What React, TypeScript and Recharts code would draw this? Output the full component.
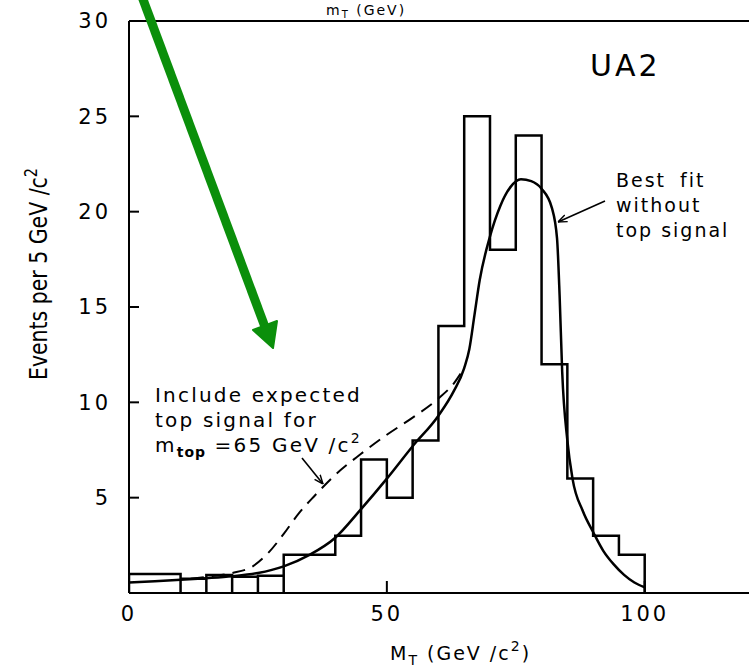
import { LineChart, Line, XAxis, YAxis } from 'recharts'

// histogram: bin edges and counts (events per 5 GeV/c^2)
const BIN_EDGES = [0, 10, 15, 20, 25, 30, 35, 40, 45, 50, 55, 60, 65, 70, 75, 80, 85, 90, 95, 100]
const BIN_COUNTS = [1, 0.75, 0.95, 0.85, 0.9, 2, 2, 3, 7, 5, 8, 14, 25, 18, 24, 12, 6, 3, 2]
// below this mass the bins are drawn as separate boxes down to the axis
const OPEN_BINS_BELOW = 30

// best fit without top signal
const FIT_X = [0, 5, 10, 15, 20, 25, 30, 35, 40, 45, 50, 55, 60, 63, 65, 66, 67, 68, 70, 72, 74, 76, 78, 80, 82, 83, 83.5, 84, 85, 86, 88, 90, 92, 94, 96, 98, 100]
const FIT_Y = [0.55, 0.62, 0.7, 0.78, 0.88, 1.05, 1.4, 2.0, 2.9, 4.4, 6.0, 7.7, 9.3, 10.6, 11.8, 12.8, 14.6, 16.4, 18.7, 20.3, 21.3, 21.7, 21.6, 21.2, 20.2, 18.6, 15.6, 11.6, 8.0, 6.0, 4.3, 3.2, 2.2, 1.5, 0.95, 0.55, 0.3]

// fit including expected top signal (m_top = 65 GeV/c^2)
const SIG_X = [12, 16, 20, 24, 27, 30, 33, 36, 40, 45, 50, 55, 60, 63, 65]
const SIG_Y = [0.75, 0.88, 1.05, 1.4, 2.1, 3.1, 4.2, 5.1, 6.2, 7.3, 8.3, 9.2, 10.2, 11.0, 11.8]

const X_TICKS = [0, 50, 100]
const Y_TICKS = [5, 10, 15, 20, 25, 30]
const TOP_TICKS = [50, 100]
const RIGHT_TICKS = [5, 10, 15, 20, 25]

const FONT = 'DejaVu Sans'

function histogramOutline() {
  const pts: { x: number; y: number }[] = []
  BIN_COUNTS.forEach((h, i) => {
    const x0 = BIN_EDGES[i]
    const x1 = BIN_EDGES[i + 1]
    if (x0 < OPEN_BINS_BELOW) {
      pts.push({ x: x0, y: 0 }, { x: x0, y: h }, { x: x1, y: h }, { x: x1, y: 0 })
    } else {
      pts.push({ x: x0, y: h }, { x: x1, y: h })
    }
  })
  pts.push({ x: BIN_EDGES[BIN_EDGES.length - 1], y: 0 })
  return pts
}

const histData = histogramOutline()
const fitData = FIT_X.map((x, i) => ({ x, y: FIT_Y[i] }))
const sigData = SIG_X.map((x, i) => ({ x, y: SIG_Y[i] }))

const tickStyle = { fontSize: 21, fill: '#000', fontFamily: FONT, letterSpacing: 3 }
const axisLine = { stroke: '#000', strokeWidth: 2 }
const tickLine = { stroke: '#000', strokeWidth: 2 }

function Annotations() {
  const txt = { fontFamily: FONT, fill: '#000' }
  return (
    <svg
      width={749}
      height={668}
      style={{ position: 'absolute', left: 0, top: 0, pointerEvents: 'none' }}
    >
      <defs>
        <marker id="head" viewBox="0 0 10 10" refX="10" refY="5" markerWidth="9" markerHeight="9" orient="auto" markerUnits="userSpaceOnUse">
          <path d="M0,1 L10,5 L0,9" fill="none" stroke="#000" strokeWidth="1.6" />
        </marker>
      </defs>

      {/* axis title of the panel above, squeezed into the top edge */}
      <text x={326} y={15} fontSize={14} letterSpacing={2} {...txt}>
        m<tspan fontSize={10} dy={3}>T</tspan>
        <tspan dy={-3}>{'  (GeV)'}</tspan>
      </text>

      <text x={590} y={76} fontSize={30} letterSpacing={3} {...txt}>UA2</text>

      <g fontSize={19} letterSpacing={2} {...txt}>
        <text x={616} y={187} wordSpacing={6}>Best fit</text>
        <text x={616} y={212}>without</text>
        <text x={616} y={237}>top signal</text>
      </g>
      <line x1={605} y1={201} x2={558} y2={222} stroke="#000" strokeWidth={1.6} markerEnd="url(#head)" />

      <g fontSize={20} letterSpacing={2.2} {...txt}>
        <text x={155} y={402}>Include expected</text>
        <text x={155} y={427}>top signal for</text>
        <text x={155} y={452}>
          m<tspan fontSize={14} fontWeight="bold" dy={5} letterSpacing={1}>top</tspan>
          <tspan dy={-5}> =65 GeV /c</tspan>
          <tspan fontSize={14} dy={-9}>2</tspan>
        </text>
      </g>
      <line x1={302} y1={458} x2={323} y2={484} stroke="#000" strokeWidth={1.6} markerEnd="url(#head)" />

      <text
        x={47}
        y={274}
        transform="rotate(-90 47 274)"
        textAnchor="middle"
        fontSize={24}
        textLength={212}
        lengthAdjust="spacingAndGlyphs"
        {...txt}
      >
        Events per 5 GeV /c<tspan fontSize={17} dy={-10}>2</tspan>
      </text>

      <text x={390} y={660} fontSize={19} letterSpacing={2} {...txt}>
        M<tspan fontSize={14} dy={5}>T</tspan>
        <tspan dy={-5}>{'  (GeV /c'}</tspan>
        <tspan fontSize={14} dy={-9}>2</tspan>
        <tspan dy={9}>)</tspan>
      </text>

      {/* green pointer */}
      <line x1={141} y1={-6} x2={265} y2={327} stroke="#0b8f0b" strokeWidth={9} />
      <polygon points="273,348 253,330 277,321" fill="#0b8f0b" stroke="#0b8f0b" strokeWidth={2} strokeLinejoin="round" />
    </svg>
  )
}

export default function App() {
  return (
    <div
      style={{
        position: 'fixed',
        left: 0,
        top: 0,
        width: 749,
        height: 668,
        overflow: 'hidden',
        background: '#fff',
        fontFamily: FONT,
      }}
    >
      <LineChart width={762} height={668} margin={{ top: 20, right: 8, bottom: 0, left: 0 }}>
        <XAxis
          dataKey="x"
          type="number"
          domain={[0, 121]}
          ticks={X_TICKS}
          height={75}
          tickSize={-12}
          tickMargin={25}
          axisLine={axisLine}
          tickLine={tickLine}
          tick={tickStyle}
          allowDataOverflow
        />
        <XAxis
          xAxisId="top"
          orientation="top"
          type="number"
          domain={[0, 121]}
          ticks={TOP_TICKS}
          height={1}
          tickSize={-15}
          tick={false}
          axisLine={axisLine}
          tickLine={tickLine}
        />
        <YAxis
          type="number"
          domain={[0, 30]}
          ticks={Y_TICKS}
          width={129}
          tickSize={-10}
          tickMargin={28}
          axisLine={axisLine}
          tickLine={tickLine}
          tick={tickStyle}
        />
        <YAxis
          yAxisId="right"
          orientation="right"
          type="number"
          domain={[0, 30]}
          ticks={RIGHT_TICKS}
          width={1}
          tickSize={-11}
          tick={false}
          axisLine={axisLine}
          tickLine={tickLine}
        />
        <Line
          data={histData}
          dataKey="y"
          type="linear"
          stroke="#000"
          strokeWidth={2.5}
          dot={false}
          isAnimationActive={false}
        />
        <Line
          data={sigData}
          dataKey="y"
          type="monotone"
          stroke="#000"
          strokeWidth={2}
          strokeDasharray="13 8"
          dot={false}
          isAnimationActive={false}
        />
        <Line
          data={fitData}
          dataKey="y"
          type="monotone"
          stroke="#000"
          strokeWidth={2.5}
          dot={false}
          isAnimationActive={false}
        />
      </LineChart>
      <Annotations />
    </div>
  )
}
